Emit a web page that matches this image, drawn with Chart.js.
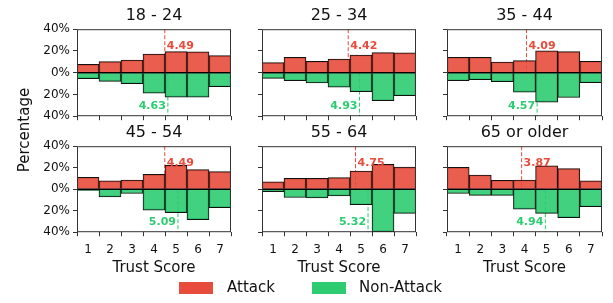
<!DOCTYPE html>
<html>
<head>
<meta charset="utf-8">
<script src="https://cdn.jsdelivr.net/npm/chart.js@4"></script>
<style>
  body { margin: 0; background: #fff; font-family: "DejaVu Sans", sans-serif; }
  #wrap { position: relative; width: 613px; height: 303px; overflow: hidden; }
  canvas { position: absolute; }
  .txt { position: absolute; color: #111; white-space: nowrap; }
  .title { font-size: 16px; text-align: center; width: 160px; }
  .xlab { font-size: 15px; text-align: center; width: 160px; }
  .patch { position: absolute; width: 34px; height: 12px; }
</style>
</head>
<body>
<div id="wrap"></div>
<script>
var scores = ['1', '2', '3', '4', '5', '6', '7'];
var groups = ['18 - 24', '25 - 34', '35 - 44', '45 - 54', '55 - 64', '65 or older'];

// percentage of respondents per trust score
var attack1824 = [7.7, 10.2, 11.7, 17.2, 19.4, 19.1, 15.7];
var nonAttack1824 = [5.5, 8.0, 10.2, 18.8, 22.5, 22.5, 12.9];
var attack2534 = [9.2, 14.2, 10.5, 12.6, 16.3, 18.5, 18.2];
var nonAttack2534 = [5.2, 7.4, 9.5, 13.2, 17.5, 25.8, 21.2];
var attack3544 = [14.2, 14.2, 9.8, 11.1, 20.0, 19.4, 10.5];
var nonAttack3544 = [7.4, 6.5, 8.3, 17.8, 27.1, 22.8, 9.2];
var attack4554 = [11.1, 7.7, 8.6, 13.8, 22.2, 18.2, 16.3];
var nonAttack4554 = [1.2, 7.1, 4.0, 19.4, 21.8, 28.3, 17.2];
var attack5564 = [6.8, 10.2, 10.2, 10.8, 16.9, 23.1, 20.6];
var nonAttack5564 = [2.2, 7.7, 8.0, 6.2, 14.5, 39.4, 22.5];
var attack65 = [20.3, 13.2, 8.3, 8.6, 21.8, 19.1, 7.7];
var nonAttack65 = [4.0, 5.8, 5.8, 18.5, 22.5, 26.5, 16.3];

var attackMeans = [4.49, 4.42, 4.09, 4.49, 4.75, 3.87];
var nonAttackMeans = [4.63, 4.93, 4.57, 5.09, 5.32, 4.94];

var attackSets = [attack1824, attack2534, attack3544, attack4554, attack5564, attack65];
var nonAttackSets = [nonAttack1824, nonAttack2534, nonAttack3544, nonAttack4554, nonAttack5564, nonAttack65];

var RED = '#e74c3c', GREEN = '#2ecc71';
var plotLefts = [77, 262, 447];
var plotWidths = [154, 154, 155];
var plotTops = [29, 146];
var plotHeights = [87, 86];
var wrap = document.getElementById('wrap');

function addText(cls, text, left, top) {
    var d = document.createElement('div');
    d.className = 'txt ' + cls;
    d.textContent = text;
    d.style.left = left + 'px';
    d.style.top = top + 'px';
    wrap.appendChild(d);
    return d;
}

var meanPlugin = {
    id: 'means',
    beforeDatasetsDraw: function(chart) {
        var ctx = chart.ctx, a = chart.chartArea;
        var xs = chart.scales.x, ys = chart.scales.y;
        var o = chart.options.plugins.means;
        var y0 = ys.getPixelForValue(0);
        var xa = xs.getPixelForValue(o.attack - 1);
        var xn = xs.getPixelForValue(o.nonAttack - 1);
        ctx.save();
        ctx.lineWidth = 1;
        ctx.setLineDash([4, 2]);
        ctx.strokeStyle = RED;
        ctx.beginPath(); ctx.moveTo(xa, a.top); ctx.lineTo(xa, y0); ctx.stroke();
        ctx.strokeStyle = GREEN;
        ctx.beginPath(); ctx.moveTo(xn, y0); ctx.lineTo(xn, a.bottom); ctx.stroke();
        ctx.restore();
    },
    afterDatasetsDraw: function(chart) {
        var ctx = chart.ctx, a = chart.chartArea;
        var xs = chart.scales.x, ys = chart.scales.y;
        var o = chart.options.plugins.means;
        var y0 = ys.getPixelForValue(0);
        ctx.save();
        // zero line
        ctx.strokeStyle = '#000';
        ctx.lineWidth = 1.5;
        ctx.beginPath(); ctx.moveTo(a.left, y0); ctx.lineTo(a.right, y0); ctx.stroke();
        // frame
        ctx.strokeStyle = '#333';
        ctx.lineWidth = 1;
        ctx.strokeRect(a.left + 0.5, a.top + 0.5, a.right - a.left - 1, a.bottom - a.top - 1);
        // mean labels
        ctx.font = 'bold 11px "DejaVu Sans"';
        ctx.textBaseline = 'middle';
        var xa = xs.getPixelForValue(o.attack - 1);
        var xn = xs.getPixelForValue(o.nonAttack - 1);
        ctx.fillStyle = RED;
        ctx.textAlign = 'left';
        ctx.fillText(o.attack.toFixed(2), xa + 2, a.top + 17);
        ctx.fillStyle = GREEN;
        ctx.textAlign = 'right';
        ctx.fillText(o.nonAttack.toFixed(2), xn - 2, a.bottom - 10);
        ctx.restore();
    }
};

for (var i = 0; i < 6; i++) {
    var row = Math.floor(i / 3), col = i % 3;
    var pl = plotLefts[col], pw = plotWidths[col];
    var pt = plotTops[row], ph = plotHeights[row];
    var cv = document.createElement('canvas');
    var W = pw + 49, H = ph + 26;
    cv.width = W; cv.height = H;
    wrap.appendChild(cv);

    addText('title', groups[i], pl + pw / 2 - 80, pt - 24);
    if (row === 1) addText('xlab', 'Trust Score', pl + pw / 2 - 80, 258);

    var showY = col === 0, showX = row === 1;
    var chart = new Chart(cv.getContext('2d'), {
        type: 'bar',
        data: {
            labels: scores,
            datasets: [
                { label: 'Attack', data: attackSets[i],
                  backgroundColor: 'rgba(231,76,60,0.9)', borderColor: '#111', borderWidth: 1,
                  categoryPercentage: 1, barPercentage: 1 },
                { label: 'Non-Attack', data: nonAttackSets[i].map(function(v) { return -v; }),
                  backgroundColor: 'rgba(46,204,113,0.9)', borderColor: '#111', borderWidth: 1,
                  categoryPercentage: 1, barPercentage: 1 }
            ]
        },
        options: {
            responsive: false,
            maintainAspectRatio: false,
            animation: false,
            devicePixelRatio: 1,
            layout: { padding: { left: 0, top: 4, right: 4, bottom: 0 } },
            plugins: {
                legend: { display: false },
                tooltip: { enabled: false },
                means: { attack: attackMeans[i], nonAttack: nonAttackMeans[i] }
            },
            scales: {
                x: {
                    stacked: true,
                    grid: { drawOnChartArea: false, drawTicks: true, tickLength: 4, color: '#333' },
                    border: { display: false },
                    ticks: {
                        padding: 6, color: '#111', maxRotation: 0,
                        font: { family: 'DejaVu Sans', size: 12 },
                        callback: (function(sx) { return function(v, idx) { return sx ? scores[idx] : ''; }; })(showX)
                    },
                    afterFit: function(s) { s.height = 26; }
                },
                y: {
                    stacked: true, min: -40, max: 40,
                    grid: { drawOnChartArea: false, drawTicks: true, tickLength: 4, color: '#333' },
                    border: { display: false },
                    ticks: {
                        stepSize: 20, padding: 3, color: '#111',
                        font: { family: 'DejaVu Sans', size: 12 },
                        callback: (function(sy) { return function(v) { return sy ? Math.abs(v) + '%' : ''; }; })(showY)
                    },
                    afterFit: function(s) { s.width = 45; }
                }
            }
        },
        plugins: [meanPlugin]
    });
    // fit the canvas so the plot area lands where it should
    var ca = chart.chartArea;
    chart.resize(W + pw - (ca.right - ca.left), H + ph - (ca.bottom - ca.top));
    ca = chart.chartArea;
    cv.style.left = (pl - ca.left) + 'px';
    cv.style.top = (pt - ca.top) + 'px';
}

// shared y label
var yl = addText('xlab', 'Percentage', -56, 121);
yl.style.transform = 'rotate(-90deg)';

// legend
var p1 = document.createElement('div'); p1.className = 'patch';
p1.style.left = '179px'; p1.style.top = '282px'; p1.style.background = RED;
wrap.appendChild(p1);
addText('', 'Attack', 227, 278).style.fontSize = '15px';
var p2 = document.createElement('div'); p2.className = 'patch';
p2.style.left = '312px'; p2.style.top = '282px'; p2.style.background = GREEN;
wrap.appendChild(p2);
addText('', 'Non-Attack', 359, 278).style.fontSize = '15px';
</script>
</body>
</html>
